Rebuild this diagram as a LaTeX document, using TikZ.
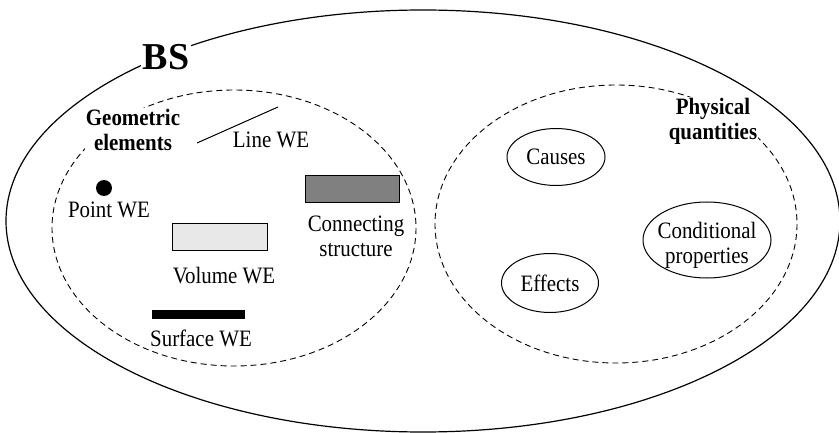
\documentclass[tikz,border=0pt]{standalone}
\usepackage{fontspec}
\setmainfont{Liberation Serif}[FakeStretch=0.89]
\newfontfamily\bsfont{Liberation Serif}
\usetikzlibrary{shapes.geometric}
\definecolor{connfill}{RGB}{128,128,128}
\definecolor{volfill}{RGB}{232,232,232}
\begin{document}
\begin{tikzpicture}[x=1pt,y=-1pt,
  lbl/.style={font=\fontsize{23.5}{25}\selectfont, inner sep=0pt, align=center},
  blbl/.style={font=\fontsize{23.5}{25}\selectfont\bfseries, inner sep=1pt, align=center, fill=white},
  region/.style={draw, dash pattern=on 6pt off 4pt, line width=0.9pt},
  qty/.style={draw, ellipse, line width=1pt, inner sep=0pt, font=\fontsize{23.5}{25}\selectfont, align=center},
]
\useasboundingbox (0,0) rectangle (839,433);
% outer BS region
\draw[line width=1.2pt] (423,221) ellipse [x radius=417, y radius=211];
% dashed regions
\draw[region] (234,228) ellipse [x radius=182, y radius=138];
\draw[region] (616,224) ellipse [x radius=181, y radius=139];
% labels covering the outlines
\node[fill=white, inner sep=2pt, font=\bsfont\fontsize{38}{42}\selectfont\bfseries] (bs) at (166,57) {BS};
\node[blbl] (geo) at (133,130) {Geometric\\elements};
\node[blbl] (phys) at (713,121) {Physical\\quantities};
% geometric elements
\node[circle, fill=black, minimum size=16, inner sep=0pt] (pt) at (104,188) {};
\node[lbl] (ptl) at (109,210) {Point WE};
\coordinate (l1) at (197,143);
\coordinate (l2) at (278,107);
\draw[line width=1pt] (l1) -- (l2);
\node[lbl] (linel) at (271,140) {Line WE};
\node[draw, line width=1pt, fill=connfill, minimum width=94, minimum height=27, inner sep=0pt] (conn) at (352,189.5) {};
\node[lbl] (connl) at (356,236) {Connecting\\structure};
\node[draw, line width=1pt, fill=volfill, minimum width=95, minimum height=27, inner sep=0pt] (vol) at (219.5,237.5) {};
\node[lbl] (voll) at (224,276) {Volume WE};
\node[fill=black, minimum width=93, minimum height=9, inner sep=0pt] (surf) at (198.5,314.5) {};
\node[lbl] (surfl) at (201,338) {Surface WE};
% physical quantities
\node[qty, minimum width=98, minimum height=57] (causes) at (556,157) {Causes};
\node[qty, minimum width=97, minimum height=59] (effects) at (550,283) {Effects};
\node[qty, minimum width=128, minimum height=76] (cond) at (707,240) {};
\node[lbl] (condl) at (707,245) {Conditional\\properties};
\end{tikzpicture}
\end{document}
